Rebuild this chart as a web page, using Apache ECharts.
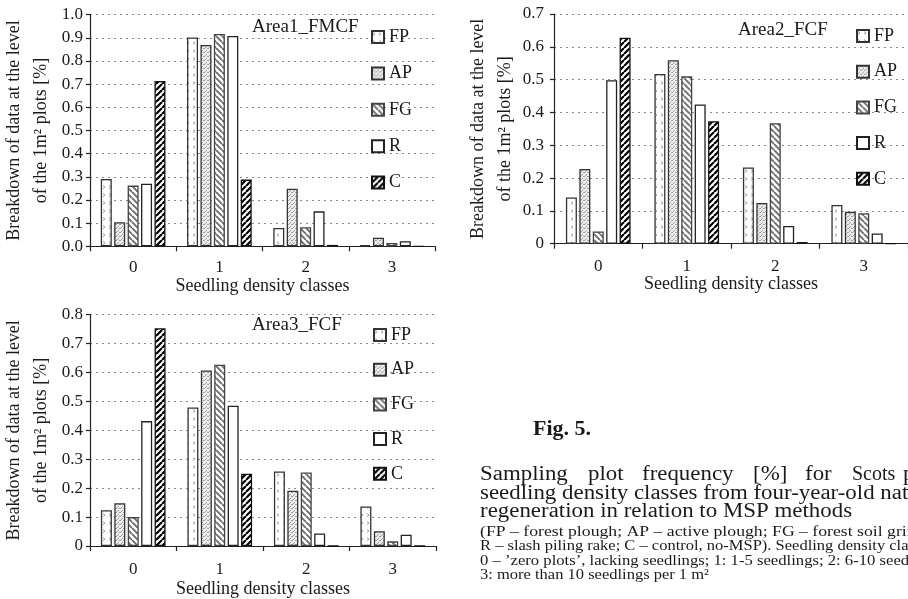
<!DOCTYPE html>
<html>
<head>
<meta charset="utf-8">
<script src="https://cdn.jsdelivr.net/npm/echarts@6/dist/echarts.min.js"></script>
<style>
html,body{margin:0;padding:0;background:#fff;}
#chart{width:908px;height:599px;}
</style>
</head>
<body>
<div id="chart"></div>
<script>
// ---------- DATA ----------
const categories = ['0', '1', '2', '3'];
const seriesNames = ['FP', 'AP', 'FG', 'R', 'C'];
const panelTitles = ['Area1_FMCF', 'Area2_FCF', 'Area3_FCF'];
const yMaxes = [1.0, 0.7, 0.8];

const area1FP = [0.291, 0.902, 0.079, 0.005];
const area1AP = [0.104, 0.869, 0.249, 0.037];
const area1FG = [0.262, 0.917, 0.082, 0.014];
const area1R  = [0.270, 0.908, 0.151, 0.022];
const area1C  = [0.714, 0.288, 0.006, 0];

const area2FP = [0.141, 0.517, 0.232, 0.118];
const area2AP = [0.228, 0.559, 0.124, 0.097];
const area2FG = [0.037, 0.510, 0.367, 0.093];
const area2R  = [0.498, 0.424, 0.054, 0.031];
const area2C  = [0.628, 0.373, 0.005, 0];

const area3FP = [0.124, 0.479, 0.258, 0.137];
const area3AP = [0.148, 0.607, 0.191, 0.051];
const area3FG = [0.100, 0.627, 0.254, 0.016];
const area3R  = [0.432, 0.485, 0.043, 0.039];
const area3C  = [0.753, 0.250, 0, 0];

const xAxisTitle = 'Seedling density classes';
const yAxisTitle = 'Breakdown of data at the level\nof the 1m\u00B2 plots [%]';

const captionFig = 'Fig. 5.';
const captionLine1Words = ['Sampling', 'plot', 'frequency', '[%]', 'for', 'Scots', 'pine'];
const captionMain = [
  'seedling density classes from four-year-old natural',
  'regeneration in relation to MSP methods'
];
const captionSmall = [
  '(FP \u2013 forest plough; AP \u2013 active plough; FG \u2013 forest soil grinder;',
  'R \u2013 slash piling rake; C \u2013 control, no-MSP). Seedling density classes:',
  '0 \u2013 \u2019zero plots\u2019, lacking seedlings; 1: 1-5 seedlings; 2: 6-10 seedlings;',
  '3: more than 10 seedlings per 1 m\u00B2'
];

const areaData = [
  [area1FP, area1AP, area1FG, area1R, area1C],
  [area2FP, area2AP, area2FG, area2R, area2C],
  [area3FP, area3AP, area3FG, area3R, area3C]
];

// ---------- STYLES ----------
const FONT = "'Liberation Serif', 'Times New Roman', serif";
const TXT = '#1a1a1a';

function tile(w, h, draw) {
  const c = document.createElement('canvas');
  c.width = w; c.height = h;
  const g = c.getContext('2d');
  g.fillStyle = '#fff';
  g.fillRect(0, 0, w, h);
  draw(g, w, h);
  return c;
}
const patFP = tile(6, 8, (g) => {
  g.strokeStyle = '#a0a0a0'; g.lineWidth = 1;
  g.beginPath(); g.moveTo(1, 1.5); g.lineTo(3, 3); g.lineTo(1, 4.5); g.stroke();
});
const patAP = tile(4, 4, (g) => {
  g.fillStyle = '#ececec'; g.fillRect(0, 0, 4, 4);
  g.fillStyle = '#a0a0a0';
  g.fillRect(0, 0, 1, 1); g.fillRect(2, 2, 1, 1); g.fillRect(3, 0, 1, 1); g.fillRect(1, 3, 1, 1);
});
const patFG = tile(6, 6, (g, s) => {
  g.strokeStyle = '#6e6e6e'; g.lineWidth = 1.9;
  g.beginPath();
  for (let k = -1; k <= 1; k++) { g.moveTo(k * s, 0); g.lineTo(k * s + s, s); }
  g.stroke();
});
const patC = tile(6, 6, (g, s) => {
  g.strokeStyle = '#000'; g.lineWidth = 2.2;
  g.beginPath();
  for (let k = -1; k <= 1; k++) { g.moveTo(k * s, s); g.lineTo(k * s + s, 0); }
  g.stroke();
});
const fills = {
  FP: { image: patFP, repeat: 'repeat' },
  AP: { image: patAP, repeat: 'repeat' },
  FG: { image: patFG, repeat: 'repeat' },
  R: '#ffffff',
  C: { image: patC, repeat: 'repeat' }
};
const borders = { FP: '#333', AP: '#333', FG: '#444', R: '#222', C: '#111' };

// ---------- LAYOUT ----------
const grids = [
  { left: 89, top: 14.7, width: 346, height: 231.6 },
  { left: 554, top: 14, width: 355, height: 229.7 },
  { left: 89, top: 314.7, width: 347, height: 233.6 }
];
const yLabelMargin = [7, 10, 7];
const xLabelMargin = [13, 14, 15];
const xNameGap = [30, 32, 34];
const yNameGap = [35, 29, 35];
const legendPos = [
  { left: 371, top: 28, itemGap: 18.4 },
  { left: 856, top: 27, itemGap: 17.7 },
  { left: 373, top: 326, itemGap: 16.7 }
];
const titlePos = [
  { x: 252, y: 27 },
  { x: 738, y: 30 },
  { x: 252, y: 325 }
];

const xAxes = [], yAxes = [], series = [], legends = [], graphics = [];

grids.forEach((gd, i) => {
  xAxes.push({
    type: 'category', gridIndex: i, data: categories,
    axisLine: { lineStyle: { color: '#222', width: 1.2 } },
    axisTick: { show: true, length: 5, lineStyle: { color: '#222', width: 1.2 } },
    axisLabel: { fontFamily: FONT, fontSize: 17, color: TXT, margin: xLabelMargin[i] },
    name: xAxisTitle, nameLocation: 'middle', nameGap: xNameGap[i],
    nameTextStyle: { fontFamily: FONT, fontSize: 18, color: TXT },
    splitLine: { show: false }
  });
  yAxes.push({
    type: 'value', gridIndex: i, min: 0, max: yMaxes[i], interval: 0.1,
    axisLine: { show: true, lineStyle: { color: '#222', width: 1.2 } },
    axisTick: { show: true, length: 4, lineStyle: { color: '#222', width: 1.2 } },
    axisLabel: {
      fontFamily: FONT, fontSize: 17, color: TXT, margin: yLabelMargin[i],
      formatter: (v) => (i === 0 ? v.toFixed(1) : (Math.abs(v) < 1e-9 ? '0' : v.toFixed(1)))
    },
    splitLine: { show: true, lineStyle: { color: '#8a8a8a', width: 1, type: [2, 4] } },
    name: yAxisTitle, nameLocation: 'middle', nameRotate: 90, nameGap: yNameGap[i],
    nameTextStyle: { fontFamily: FONT, fontSize: 18, color: TXT, lineHeight: 27 }
  });
  seriesNames.forEach((nm, k) => {
    series.push({
      type: 'bar', name: nm, xAxisIndex: i, yAxisIndex: i,
      data: areaData[i][k],
      barWidth: 11, barGap: '22%',
      itemStyle: { color: fills[nm], borderColor: borders[nm], borderWidth: 1.3 },
      emphasis: { disabled: true },
      animation: false
    });
  });
  legends.push({
    orient: 'vertical', left: legendPos[i].left, top: legendPos[i].top,
    itemWidth: 12, itemHeight: 12, itemGap: legendPos[i].itemGap,
    icon: 'rect', padding: 0,
    data: seriesNames,
    textStyle: { fontFamily: FONT, fontSize: 18, color: TXT },
    selectedMode: false
  });
  graphics.push({
    type: 'text', x: titlePos[i].x, y: titlePos[i].y,
    style: { text: panelTitles[i], font: '19px ' + FONT, fill: TXT, verticalAlign: 'middle' }
  });
});

// caption
const CAP_LEFT = 480;
graphics.push({
  type: 'text', x: 533, y: 429.5,
  style: { text: captionFig, font: 'bold 22px ' + FONT, fill: TXT, verticalAlign: 'middle' }
});
const line1X = [CAP_LEFT, 588, 642, 753, 805, 852, 903];
const line1Scale = [1.145, 1.145, 1.145, 1.145, 1.145, 1.0, 1.145];
captionLine1Words.forEach((w, j) => {
  graphics.push({
    type: 'text', x: line1X[j], y: 474.5, scaleX: line1Scale[j],
    style: { text: w, font: '20px ' + FONT, fill: TXT, verticalAlign: 'middle' }
  });
});
captionMain.forEach((t, j) => {
  graphics.push({
    type: 'text', x: CAP_LEFT, y: 493.4 + j * 18.7, scaleX: 1.145,
    style: { text: t, font: '20px ' + FONT, fill: TXT, verticalAlign: 'middle' }
  });
});
const smallScale = [1.18, 1.10, 1.11, 1.10];
captionSmall.forEach((t, j) => {
  graphics.push({
    type: 'text', x: CAP_LEFT, y: 532 + j * 14.3, scaleX: smallScale[j],
    style: { text: t, font: '15px ' + FONT, fill: TXT, verticalAlign: 'middle' }
  });
});

const chart = echarts.init(document.getElementById('chart'), null, { renderer: 'canvas' });
chart.setOption({
  animation: false,
  backgroundColor: '#fff',
  grid: grids,
  xAxis: xAxes,
  yAxis: yAxes,
  series: series,
  legend: legends,
  graphic: graphics
});
</script>
</body>
</html>
